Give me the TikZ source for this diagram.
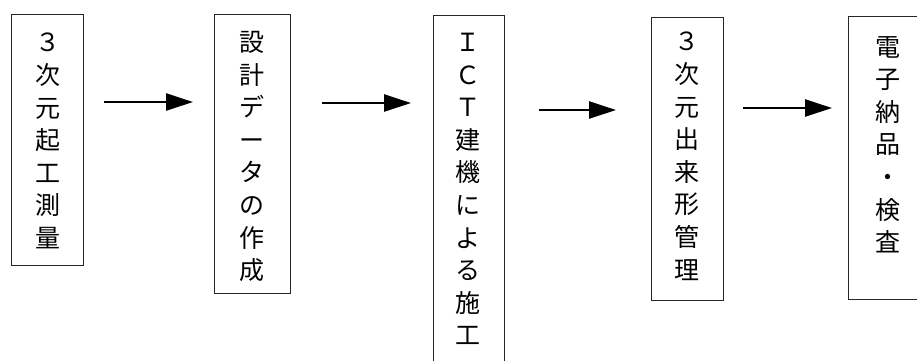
\documentclass[tikz,border=0pt]{standalone}
\usepackage{fontspec}
\newfontfamily\jpfont{Noto Sans CJK JP}
\usetikzlibrary{arrows.meta}
\tikzset{
  stepbox/.style={draw=black!85, line width=1pt, anchor=north west, inner sep=0pt},
  vtext/.style={anchor=north, inner sep=0pt, align=center,
    font=\jpfont\fontsize{25}{32.6}\selectfont},
  flow/.style={line width=2.6pt, -{Triangle[length=27pt,width=17pt]}}
}
\begin{document}
\begin{tikzpicture}[x=1pt,y=-1pt]
\useasboundingbox (0,0) rectangle (917,360);
\clip (0,0) rectangle (917,360);
% boxes
\node[stepbox, minimum width=72.5pt, minimum height=251pt] (b1) at (10.5,14) {};
\node[stepbox, minimum width=76pt, minimum height=279pt] (b2) at (214,14) {};
\node[stepbox, minimum width=71pt, minimum height=360pt] (b3) at (433,15) {};
\node[stepbox, minimum width=72.5pt, minimum height=283pt] (b4) at (650.5,17) {};
\node[stepbox, minimum width=90pt, minimum height=283pt] (b5) at (848,15.5) {};
% texts
\node[vtext] (t1) at (48,33) {３\\次\\元\\起\\工\\測\\量};
\node[vtext] (t2) at (252,31) {設\\計\\デ\\ー\\タ\\の\\作\\成};
\node[vtext] (t3) at (468,33) {Ｉ\\Ｃ\\Ｔ\\建\\機\\に\\よ\\る\\施\\工};
\node[vtext] (t4) at (687,32) {３\\次\\元\\出\\来\\形\\管\\理};
\node[vtext] (t5) at (888,36) {電\\子\\納\\品\\・\\検\\査};
% arrows
\coordinate (a1s) at (104,102); \coordinate (a1e) at (193,102);
\coordinate (a2s) at (322,103); \coordinate (a2e) at (411,103);
\coordinate (a3s) at (539,110); \coordinate (a3e) at (616,110);
\coordinate (a4s) at (743,108); \coordinate (a4e) at (832,108);
\draw[flow] (a1s) -- (a1e);
\draw[flow] (a2s) -- (a2e);
\draw[flow] (a3s) -- (a3e);
\draw[flow] (a4s) -- (a4e);
\end{tikzpicture}
\end{document}
